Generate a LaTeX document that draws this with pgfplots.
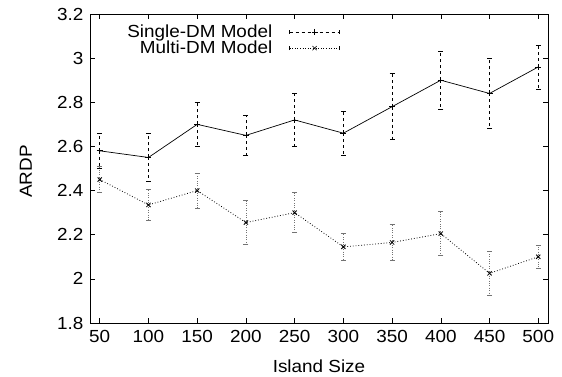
\documentclass[border=0pt]{standalone}
\usepackage{pgfplots}
\pgfplotsset{compat=1.18}
\usepackage{fontspec}
\setmainfont[FakeStretch=1.08]{Liberation Sans}
\newcommand{\chartfont}{\fontsize{17.5}{20}\selectfont}
\begin{document}
\begin{tikzpicture}[x=1pt,y=1pt]
\path[use as bounding box] (0,0) rectangle (562,377);
\begin{axis}[
  at={(90pt,54pt)}, anchor=south west,
  scale only axis, width=458pt, height=309pt,
  xmin=40, xmax=510, ymin=1.8, ymax=3.2,
  xtick={50,100,...,500},
  ytick={1.8,2,...,3.2},
  yticklabels={1.8,2,2.2,2.4,2.6,2.8,3,3.2},
  tick align=inside, xtick pos=both, ytick pos=both,
  major tick length=5pt,
  tick style={black, line width=0.6pt},
  axis line style={black, line width=0.8pt},
  /pgf/number format/assume math mode=true,
  tick label style={font=\chartfont},
  xticklabel style={yshift=-4pt},
  yticklabel style={xshift=-3pt},
  label style={font=\chartfont},
  xlabel={Island Size},
  ylabel={ARDP},
  xlabel style={at={(axis description cs:0.5,-0.139)}, anchor=center},
  ylabel style={at={(axis description cs:-0.14,0.49)}, anchor=center, rotate=0},
  legend cell align=right,
  legend plot pos=right,
  legend style={font=\chartfont, draw=none, fill=none, at={(0.546,0.972)}, anchor=north east,
    row sep=-2pt, column sep=15pt, inner sep=0pt},
  legend image code/.code={%
    \draw[#1, mark=none] (0pt,0pt) -- (50pt,0pt);
    \draw[#1, mark=none, solid] (0pt,-2pt) -- (0pt,2pt) (50pt,-2pt) -- (50pt,2pt);
    \draw[#1, only marks] plot coordinates {(25pt,0pt)};
  },
]
% legend images
\addlegendimage{black, dashed, line width=0.6pt, mark=+, mark size=3pt, mark options={solid}}
\addlegendentry{Single-DM Model}
\addlegendimage{black, dotted, line width=0.6pt, mark=x, mark size=3pt, mark options={solid}}
\addlegendentry{Multi-DM Model}

% Single-DM error bars
\addplot[forget plot, black, dashed, line width=0.6pt, draw=none, mark=none,
  error bars/.cd, y dir=both, y explicit,
  error bar style={black, dashed, line width=0.7pt},
  error mark options={black, solid, rotate=90, mark size=2.5pt, line width=0.7pt}]
coordinates {
(50,2.58) +- (0,0.08)
(100,2.55) +- (0,0.11)
(150,2.70) +- (0,0.10)
(200,2.65) +- (0,0.09)
(250,2.72) +- (0,0.12)
(300,2.66) +- (0,0.10)
(350,2.78) +- (0,0.15)
(400,2.90) +- (0,0.13)
(450,2.84) +- (0,0.16)
(500,2.96) +- (0,0.10)
};
\addplot[forget plot, black, solid, line width=0.7pt, mark=+, mark size=3pt]
coordinates {
(50,2.58) (100,2.55) (150,2.70) (200,2.65) (250,2.72)
(300,2.66) (350,2.78) (400,2.90) (450,2.84) (500,2.96)
};

% Multi-DM error bars
\addplot[forget plot, draw=none, mark=none,
  error bars/.cd, y dir=both, y explicit,
  error bar style={black!55, dotted, line width=0.8pt},
  error mark options={black!55, solid, rotate=90, mark size=2.5pt, line width=0.6pt}]
coordinates {
(50,2.45) +- (0,0.06)
(100,2.335) +- (0,0.07)
(150,2.40) +- (0,0.08)
(200,2.255) +- (0,0.10)
(250,2.30) +- (0,0.09)
(300,2.145) +- (0,0.06)
(350,2.165) +- (0,0.08)
(400,2.205) +- (0,0.10)
(450,2.025) +- (0,0.10)
(500,2.10) +- (0,0.05)
};
\addplot[forget plot, black, dotted, line width=0.8pt, mark=x, mark size=3pt, mark options={solid}]
coordinates {
(50,2.45) (100,2.335) (150,2.40) (200,2.255) (250,2.30)
(300,2.145) (350,2.165) (400,2.205) (450,2.025) (500,2.10)
};
\end{axis}
\end{tikzpicture}
\end{document}
